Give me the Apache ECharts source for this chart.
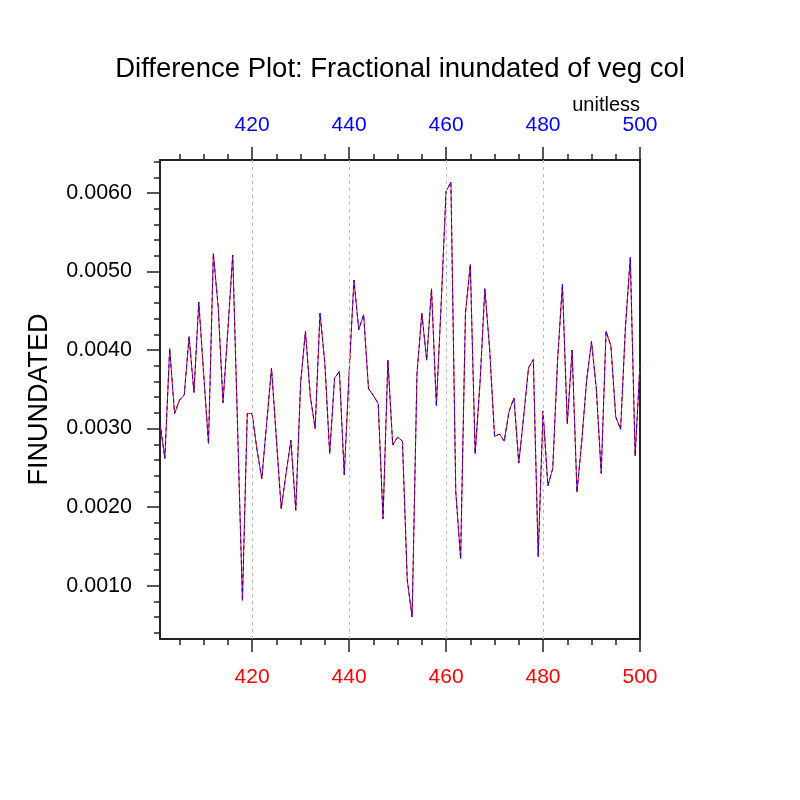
<!DOCTYPE html>
<html>
<head>
<meta charset="utf-8">
<script src="https://cdn.jsdelivr.net/npm/echarts@6/dist/echarts.min.js"></script>
<style>
html, body { margin: 0; padding: 0; background: #fff; }
#chart { width: 800px; height: 800px; }
</style>
</head>
<body>
<div id="chart"></div>
<script>
// x positions (time step) and the two overlaid series
const steps = [401, 402, 403, 404, 405, 406, 407, 408, 409, 410,
  411, 412, 413, 414, 415, 416, 417, 418, 419, 420,
  421, 422, 423, 424, 425, 426, 427, 428, 429, 430,
  431, 432, 433, 434, 435, 436, 437, 438, 439, 440,
  441, 442, 443, 444, 445, 446, 447, 448, 449, 450,
  451, 452, 453, 454, 455, 456, 457, 458, 459, 460,
  461, 462, 463, 464, 465, 466, 467, 468, 469, 470,
  471, 472, 473, 474, 475, 476, 477, 478, 479, 480,
  481, 482, 483, 484, 485, 486, 487, 488, 489, 490,
  491, 492, 493, 494, 495, 496, 497, 498, 499, 500];

const finundated = [0.00307, 0.00262, 0.00402, 0.00319, 0.00336, 0.00343, 0.00417, 0.00346, 0.00461, 0.00370,
  0.00281, 0.00523, 0.00455, 0.00333, 0.00426, 0.00521, 0.00302, 0.00081, 0.00319, 0.00319,
  0.00273, 0.00236, 0.00307, 0.00377, 0.00287, 0.00198, 0.00243, 0.00285, 0.00196, 0.00358,
  0.00424, 0.00341, 0.00300, 0.00447, 0.00383, 0.00268, 0.00364, 0.00373, 0.00241, 0.00370,
  0.00489, 0.00426, 0.00445, 0.00351, 0.00342, 0.00332, 0.00185, 0.00387, 0.00279, 0.00289,
  0.00284, 0.00107, 0.00060, 0.00370, 0.00447, 0.00387, 0.00478, 0.00329, 0.00460, 0.00602,
  0.00614, 0.00220, 0.00134, 0.00447, 0.00509, 0.00268, 0.00358, 0.00478, 0.00400, 0.00290,
  0.00293, 0.00284, 0.00322, 0.00339, 0.00256, 0.00315, 0.00377, 0.00388, 0.00137, 0.00322,
  0.00227, 0.00249, 0.00387, 0.00484, 0.00306, 0.00400, 0.00219, 0.00285, 0.00362, 0.00411,
  0.00350, 0.00243, 0.00424, 0.00405, 0.00315, 0.00299, 0.00430, 0.00518, 0.00265, 0.00383];

// tick labels / tick marks
const xMajor = [420, 440, 460, 480, 500];
const xMinor = [405, 410, 415, 425, 430, 435, 445, 450, 455, 465, 470, 475, 485, 490, 495];
const xGrid = [420, 440, 460, 480];
const yMajor = [0.001, 0.002, 0.003, 0.004, 0.005, 0.006];
const yMinor = [0.0004, 0.0006, 0.0008, 0.0012, 0.0014, 0.0016, 0.0018,
  0.0022, 0.0024, 0.0026, 0.0028, 0.0032, 0.0034, 0.0036, 0.0038,
  0.0042, 0.0044, 0.0046, 0.0048, 0.0052, 0.0054, 0.0056, 0.0058, 0.0062, 0.0064];

const FONT = 'Liberation Sans';
const X_MIN = 401, X_MAX = 500;
const Y_MIN = 0.00032, Y_MAX = 0.00642;

const pairs = steps.map((s, i) => [s, finundated[i]]);

function xAxisDef(pos, ticks, len, labelColor, margin) {
  return {
    type: 'value', position: pos, min: X_MIN, max: X_MAX,
    axisLine: { show: false },
    axisTick: { customValues: ticks, length: len, lineStyle: { color: '#222', width: 1.5 } },
    axisLabel: labelColor
      ? { customValues: ticks, color: labelColor, fontSize: 21, fontFamily: FONT, margin: margin }
      : { show: false },
    splitLine: { show: false }
  };
}

function yAxisDef(ticks, len, withLabels) {
  return {
    type: 'value', position: 'left', min: Y_MIN, max: Y_MAX,
    axisLine: { show: false },
    axisTick: { customValues: ticks, length: len, lineStyle: { color: '#222', width: 1.5 } },
    axisLabel: withLabels
      ? { customValues: ticks, color: '#000', fontSize: 21.5, fontFamily: FONT, margin: 28,
          formatter: v => v.toFixed(4) }
      : { show: false },
    splitLine: { show: false },
    name: withLabels ? 'FINUNDATED' : '',
    nameLocation: 'middle', nameRotate: 90, nameGap: 107,
    nameTextStyle: { fontSize: 27, fontFamily: FONT, color: '#000' }
  };
}

const chart = echarts.init(document.getElementById('chart'));
chart.setOption({
  animation: false,
  backgroundColor: '#fff',
  title: {
    text: 'Difference Plot: Fractional inundated of veg col',
    left: 'center', top: 50,
    textStyle: { fontSize: 27.5, fontWeight: 'normal', color: '#000', fontFamily: FONT }
  },
  graphic: [{
    type: 'text', right: 160, top: 95,
    style: { text: 'unitless', fontSize: 20, fontFamily: FONT, fill: '#000' }
  }],
  grid: {
    left: 160, top: 160, width: 480, height: 479,
    show: true, borderColor: '#222', borderWidth: 2, backgroundColor: 'transparent'
  },
  xAxis: [
    xAxisDef('bottom', xMajor, 13, '#ff0000', 28),
    xAxisDef('bottom', xMinor, 6, null, 0),
    xAxisDef('top', xMajor, 13, '#0000ff', 24),
    xAxisDef('top', xMinor, 6, null, 0)
  ],
  yAxis: [
    yAxisDef(yMajor, 13, true),
    yAxisDef(yMinor, 6, false)
  ],
  series: [
    {
      type: 'line', data: pairs, xAxisIndex: 0, yAxisIndex: 0,
      symbol: 'none', lineStyle: { color: '#ff0000', width: 1 },
      markLine: {
        silent: true, symbol: 'none', label: { show: false },
        lineStyle: { color: '#b8b8b8', type: [3, 4], width: 1 },
        data: xGrid.map(v => ({ xAxis: v }))
      }
    },
    {
      type: 'line', data: pairs, xAxisIndex: 0, yAxisIndex: 0,
      symbol: 'none', lineStyle: { color: '#0000ff', width: 1, type: [4, 3] }
    }
  ]
});
</script>
</body>
</html>
